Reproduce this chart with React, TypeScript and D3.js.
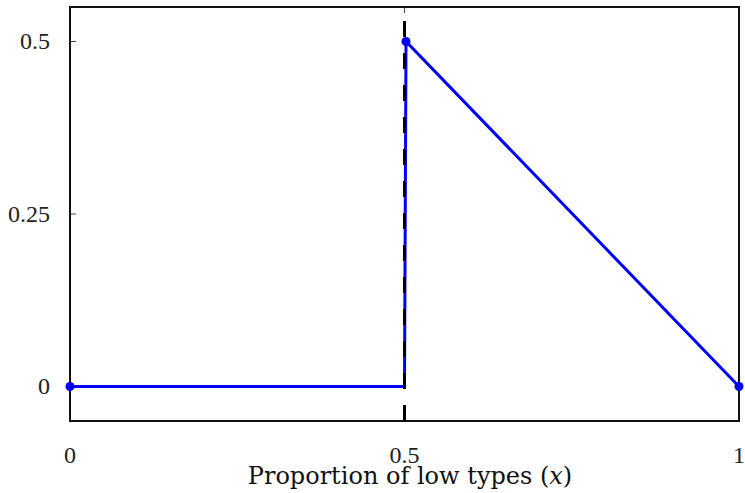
import React, { useEffect, useRef } from 'react';
import * as d3 from 'd3';

// piecewise curve: zero up to x = 0.5, jump, then linear decline to 1
const xValues = [0, 0.5, 0.5, 1];
const yValues = [0, 0, 0.5, 0];
const markerIdx = [0, 2, 3];
const xTicks = [0, 0.5, 1];
const yTicks = [0, 0.25, 0.5];
const cutoff = 0.5;

const W = 745;
const H = 493;

export default function App() {
  const svgRef = useRef<SVGSVGElement>(null);

  useEffect(() => {
    if (!svgRef.current) return;
    const svg = d3.select(svgRef.current);
    svg.selectAll('*').remove();

    const left = 70, right = 739, top = 7, bottom = 421;
    const x = d3.scaleLinear().domain([0, 1]).range([left, right]);
    const y = d3.scaleLinear().domain([-0.05, 0.55]).range([bottom, top]);
    const tickFont = '"Liberation Serif", "DejaVu Serif", serif';
    const labelFont = '"DejaVu Serif", "Liberation Serif", serif';

    // ticks (inward, thin)
    const g = svg.append('g');
    yTicks.forEach(t => {
      g.append('line')
        .attr('x1', left).attr('x2', left + 6)
        .attr('y1', y(t)).attr('y2', y(t))
        .attr('stroke', '#444').attr('stroke-width', 1);
      g.append('text')
        .attr('x', 50).attr('y', y(t))
        .attr('dy', '0.33em')
        .attr('text-anchor', 'end')
        .style('font-family', tickFont)
        .style('font-size', '24px')
        .attr('fill', '#222')
        .text(String(t));
    });
    xTicks.forEach(t => {
      g.append('line')
        .attr('x1', x(t)).attr('x2', x(t))
        .attr('y1', top).attr('y2', top + 6)
        .attr('stroke', '#444').attr('stroke-width', 1);
      g.append('line')
        .attr('x1', x(t)).attr('x2', x(t))
        .attr('y1', bottom).attr('y2', bottom - 6)
        .attr('stroke', '#444').attr('stroke-width', 1);
      g.append('text')
        .attr('x', x(t)).attr('y', 463)
        .attr('text-anchor', 'middle')
        .style('font-family', tickFont)
        .style('font-size', '24px')
        .attr('fill', '#222')
        .text(String(t));
    });

    // frame
    svg.append('rect')
      .attr('x', left).attr('y', top)
      .attr('width', right - left).attr('height', bottom - top)
      .attr('fill', 'none').attr('stroke', '#111').attr('stroke-width', 2);

    // blue curve
    const pts = xValues.map((v, i) => [v, yValues[i]] as [number, number]);
    const line = d3.line<[number, number]>()
      .x(d => x(d[0]) + (d[0] === cutoff && d[1] > 0 ? 1.5 : 0))
      .y(d => y(d[1]));
    svg.append('path')
      .attr('d', line(pts))
      .attr('fill', 'none')
      .attr('stroke', '#0000ff')
      .attr('stroke-width', 3);

    // dashed cutoff line, drawn from bottom upward
    svg.append('line')
      .attr('x1', x(cutoff)).attr('x2', x(cutoff))
      .attr('y1', bottom).attr('y2', top)
      .attr('stroke', '#000')
      .attr('stroke-width', 3)
      .attr('stroke-dasharray', '16 16');

    // markers
    markerIdx.forEach(i => {
      svg.append('circle')
        .attr('cx', x(xValues[i]) + (i === 2 ? 1.5 : 0))
        .attr('cy', y(yValues[i]))
        .attr('r', 4.5)
        .attr('fill', '#0000ff');
    });

    // x label
    const lab = svg.append('text')
      .attr('x', 410).attr('y', 484)
      .attr('text-anchor', 'middle')
      .style('font-family', labelFont)
      .style('font-size', '24px')
      .attr('fill', '#111');
    lab.append('tspan').text('Proportion of low types (');
    lab.append('tspan').style('font-style', 'italic').text('x');
    lab.append('tspan').text(')');
  }, []);

  return (
    <div style={{ position: 'fixed', left: 0, top: 0, width: W, height: H, background: '#fff' }}>
      <svg ref={svgRef} width={W} height={H}></svg>
    </div>
  );
}
